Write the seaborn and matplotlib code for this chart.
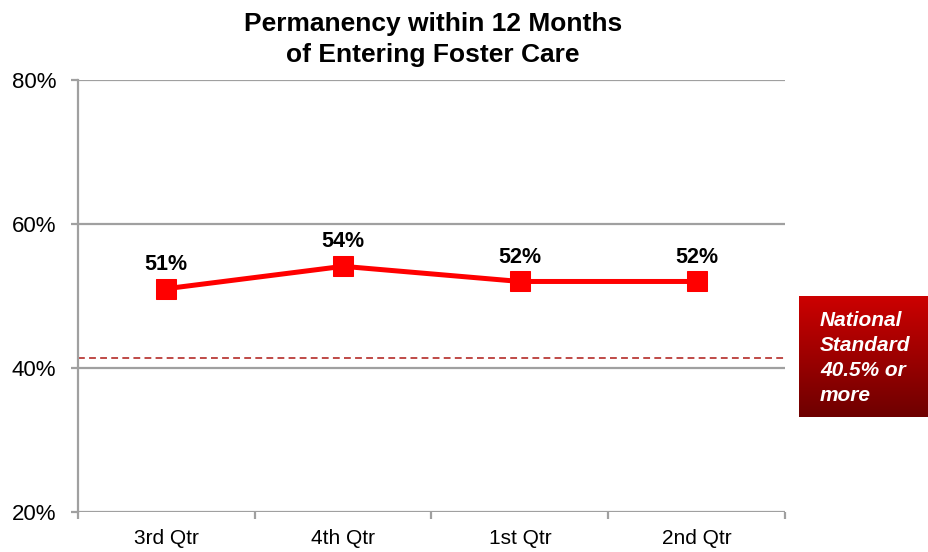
import numpy as np
import pandas as pd
import matplotlib
matplotlib.use("Agg")
import matplotlib.pyplot as plt
from matplotlib.ticker import FixedLocator
import seaborn as sns

# ---- data ----
quarters = ["3rd Qtr", "4th Qtr", "1st Qtr", "2nd Qtr"]
values = [51.0, 54.1, 52.0, 52.0]
value_labels = ["51%", "54%", "52%", "52%"]
national_standard_line = 41.4
y_ticks = [20, 40, 60, 80]
y_tick_labels = ["20%", "40%", "60%", "80%"]
title_text = "Permanency within 12 Months\nof Entering Foster Care"
standard_text = "National\nStandard\n40.5% or\nmore"

sns.set_style("white")
plt.rcParams["font.family"] = ["Liberation Sans", "DejaVu Sans"]
plt.rcParams["text.color"] = "black"

W, H = 929, 552
fig = plt.figure(figsize=(W / 100, H / 100), dpi=100)

def fx(px):
    return px / W

def fy(py):
    return 1 - py / H

ax = fig.add_axes([fx(78), fy(512.3), fx(785) - fx(78), fy(79.5) - fy(512.3)])

df = pd.DataFrame({"quarter": quarters, "value": values})
sns.lineplot(data=df, x="quarter", y="value", sort=False, ax=ax,
             color="#ff0000", linewidth=3.6, marker="s", markersize=15,
             markeredgecolor="#ff0000", zorder=5)

ax.set_xlim(-0.5, len(quarters) - 0.5)
ax.set_ylim(20, 80)
ax.set_xlabel("")
ax.set_ylabel("")

grid_col = "#a0a0a0"
for yv in y_ticks:
    ax.axhline(yv, color=grid_col, linewidth=1.6, zorder=1)

ax.axhline(national_standard_line, color="#bf4a46", linewidth=1.4,
           linestyle=(0, (3.5, 2.2)), zorder=2)

for s in ["top", "right", "bottom"]:
    ax.spines[s].set_visible(False)
ax.spines["left"].set_color(grid_col)
ax.spines["left"].set_linewidth(1.6)

ax.set_yticks(y_ticks)
ax.set_yticklabels(y_tick_labels, fontsize=16)
ax.tick_params(axis="y", direction="out", length=5, width=1.6, color=grid_col,
               pad=10.5, left=True, labelcolor="black")

ax.set_xticks(range(len(quarters)))
ax.set_xticklabels(quarters, fontsize=15)
ax.tick_params(axis="x", which="major", length=0, pad=12, labelcolor="black")
ax.xaxis.set_minor_locator(FixedLocator([-0.5, 0.5, 1.5, 2.5, 3.5]))
ax.tick_params(axis="x", which="minor", direction="out", length=5, width=1.6,
               color=grid_col, bottom=True)

for i, (v, lab) in enumerate(zip(values, value_labels)):
    ax.annotate(lab, (i, v), xytext=(0, 10), textcoords="offset points",
                ha="center", va="bottom", fontsize=15.5, fontweight="bold",
                color="black", zorder=6)

fig.text(fx(433), fy(39.5), title_text, ha="center", va="center",
         fontsize=19, fontweight="bold", linespacing=1.32, color="black")

# National standard box with gradient
bax = fig.add_axes([fx(799), fy(417), fx(929) - fx(799), fy(296) - fy(417)])
top = np.array([0xcc, 0x00, 0x00]) / 255
bot = np.array([0x6e, 0x00, 0x00]) / 255
t = np.linspace(0, 1, 100)[:, None]
grad = (top[None, :] * (1 - t) + bot[None, :] * t)[:, None, :]
bax.imshow(grad, aspect="auto", extent=[0, 1, 0, 1], origin="upper")
bax.set_xlim(0, 1)
bax.set_ylim(0, 1)
bax.axis("off")
bax.text(21 / 130, 0.49, standard_text, transform=bax.transAxes, ha="left",
         va="center", fontsize=15, fontweight="bold", fontstyle="italic",
         color="white", linespacing=1.4)

fig.savefig("out.png", dpi=100)
